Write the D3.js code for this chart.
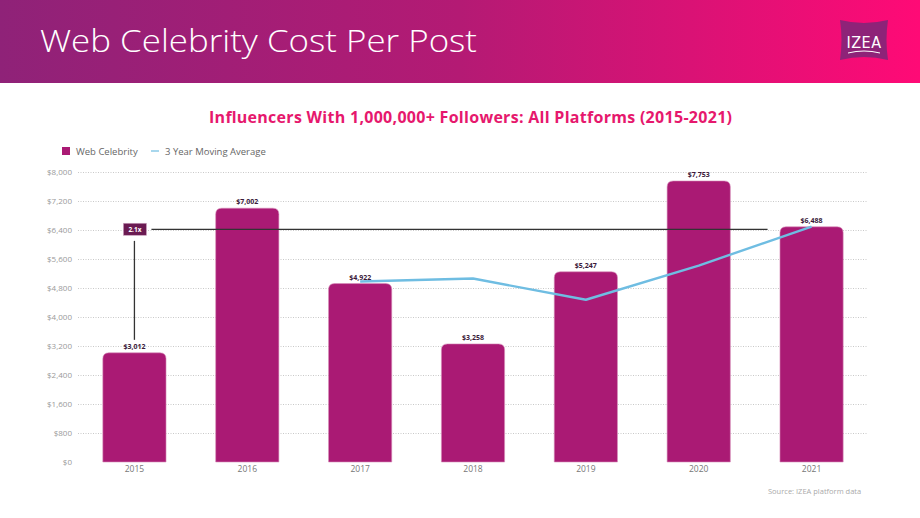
<!DOCTYPE html>
<html>
<head>
<meta charset="utf-8">
<script src="https://cdn.jsdelivr.net/npm/d3@7/dist/d3.min.js"></script>
<style>
  html, body { margin: 0; padding: 0; background: #fff; }
  svg { display: block; font-family: "Open Sans", "Lato", sans-serif; }
</style>
</head>
<body>
<svg id="chart" width="920" height="518"></svg>
<script>
// ---- data ----
const years = ["2015", "2016", "2017", "2018", "2019", "2020", "2021"];
const costPerPost = [3012, 7002, 4922, 3258, 5247, 7753, 6488];
const costLabels = ["$3,012", "$7,002", "$4,922", "$3,258", "$5,247", "$7,753", "$6,488"];
const maYears = ["2017", "2018", "2019", "2020", "2021"];
const movingAverage = [4979, 5061, 4476, 5419, 6496];
const yTicks = [0, 800, 1600, 2400, 3200, 4000, 4800, 5600, 6400, 7200, 8000];
const ratioLineValue = 6420;
const ratioLineFrom = "2015";
const ratioLineTo = "2021";
const ratioVertical = [3370, 6100];
const ratioLabel = "2.1x";

const svg = d3.select("#chart");
const W = 920, H = 518;
const FONT = "'Open Sans', Lato, sans-serif";

// ---- header ----
const defs = svg.append("defs");
const grad = defs.append("linearGradient").attr("id", "hdr").attr("x1", "0").attr("x2", "1").attr("y1", "0").attr("y2", "0");
grad.append("stop").attr("offset", "0").attr("stop-color", "#8f2278");
grad.append("stop").attr("offset", "0.5").attr("stop-color", "#b41a74");
grad.append("stop").attr("offset", "1").attr("stop-color", "#ff0a76");
svg.append("rect").attr("x", 0).attr("y", 0).attr("width", W).attr("height", 83).attr("fill", "url(#hdr)");
svg.append("text").attr("x", 40).attr("y", 52).attr("fill", "#fff")
  .attr("font-size", 32).attr("font-weight", 300).attr("font-family", FONT)
  .attr("textLength", 437).attr("lengthAdjust", "spacingAndGlyphs")
  .text("Web Celebrity Cost Per Post");

// logo
const logo = svg.append("g").attr("transform", "translate(840,20)");
logo.append("path").attr("d", "M0,0 Q24,6 48,0 Q45,20 48,40 Q24,34 0,40 Q3,20 0,0 Z").attr("fill", "#8e2378");
logo.append("text").attr("x", 24).attr("y", 28).attr("text-anchor", "middle").attr("fill", "#fff")
  .attr("font-size", 16).attr("font-weight", 400).attr("letter-spacing", 0.5)
  .attr("font-family", "'DejaVu Sans Condensed', 'Liberation Sans Narrow', sans-serif").text("IZEA");
logo.append("path").attr("d", "M8,33 Q24,29 40,33").attr("stroke", "#fff").attr("stroke-width", 1).attr("fill", "none");

// ---- subtitle ----
svg.append("text").attr("x", 209).attr("y", 123)
  .attr("fill", "#e6186d").attr("font-size", 16).attr("font-weight", 700).attr("font-family", FONT)
  .attr("textLength", 523).attr("lengthAdjust", "spacing")
  .text("Influencers With 1,000,000+ Followers: All Platforms (2015-2021)");

// ---- legend ----
svg.append("rect").attr("x", 62).attr("y", 147).attr("width", 8).attr("height", 8).attr("fill", "#aa1a74");
svg.append("text").attr("x", 76).attr("y", 155).attr("fill", "#666").attr("font-size", 9.5).text("Web Celebrity");
svg.append("line").attr("x1", 151).attr("x2", 159).attr("y1", 151).attr("y2", 151).attr("stroke", "#6fbde2").attr("stroke-width", 1.2);
svg.append("text").attr("x", 165).attr("y", 155).attr("fill", "#666").attr("font-size", 9.5).text("3 Year Moving Average");

// ---- scales ----
const x = d3.scaleBand().domain(years).range([78, 868]).paddingInner(0.44).paddingOuter(0.22);
const y = d3.scaleLinear().domain([0, 8000]).range([462, 172]);

// gridlines
svg.append("g").selectAll("line").data(yTicks.slice(1)).join("line")
  .attr("x1", 78).attr("x2", 868)
  .attr("y1", d => y(d) + 0.5).attr("y2", d => y(d) + 0.5)
  .attr("stroke", "#bbb").attr("stroke-width", 0.8).attr("stroke-dasharray", "1,1.5");

// y axis
const yAxis = d3.axisLeft(y).tickValues(yTicks).tickSize(0).tickPadding(0)
  .tickFormat(d => "$" + d3.format(",")(d));
const gy = svg.append("g").attr("transform", "translate(72,0)").call(yAxis);
gy.select(".domain").remove();
gy.selectAll("text").attr("fill", "#999").attr("font-size", 8).attr("font-family", FONT);

// x axis
const xAxis = d3.axisBottom(x).tickSize(0).tickPadding(0);
const gx = svg.append("g").attr("transform", "translate(0,466)").call(xAxis);
gx.select(".domain").remove();
gx.selectAll("text").attr("fill", "#777").attr("font-size", 8.5).attr("font-family", FONT);

// bars with rounded tops
const r = 6;
function barPath(d, i) {
  const x0 = x(years[i]), w = x.bandwidth(), y0 = y(d), y1 = y(0);
  return `M${x0},${y1} L${x0},${y0 + r} Q${x0},${y0} ${x0 + r},${y0} L${x0 + w - r},${y0} Q${x0 + w},${y0} ${x0 + w},${y0 + r} L${x0 + w},${y1} Z`;
}
svg.append("g").selectAll("path").data(costPerPost).join("path")
  .attr("d", barPath).attr("fill", "#aa1a74").attr("stroke", "#d68fbb").attr("stroke-width", 0.6);

// bar labels
svg.append("g").selectAll("text").data(costPerPost).join("text")
  .attr("x", (d, i) => x(years[i]) + x.bandwidth() / 2)
  .attr("y", d => y(d) - 4)
  .attr("text-anchor", "middle").attr("fill", "#3b1a3a").attr("font-size", 7).attr("font-weight", 700)
  .text((d, i) => costLabels[i]);

// ratio annotation
const cx = yr => x(yr) + x.bandwidth() / 2;
svg.append("line").attr("x1", cx(ratioLineFrom) + 17).attr("x2", cx(ratioLineTo) - 44)
  .attr("y1", y(ratioLineValue)).attr("y2", y(ratioLineValue))
  .attr("stroke", "#333").attr("stroke-width", 1.3);
svg.append("line").attr("x1", cx(ratioLineFrom)).attr("x2", cx(ratioLineFrom))
  .attr("y1", y(ratioVertical[0])).attr("y2", y(ratioVertical[1]))
  .attr("stroke", "#333").attr("stroke-width", 1.3);
svg.append("rect").attr("x", cx(ratioLineFrom) - 11).attr("y", y(ratioLineValue) - 6)
  .attr("width", 23).attr("height", 12).attr("fill", "#6b1b52").attr("stroke", "#c9a0bd").attr("stroke-width", 0.6);
svg.append("text").attr("x", cx(ratioLineFrom) + 0.5).attr("y", y(ratioLineValue) + 2.5)
  .attr("text-anchor", "middle").attr("fill", "#fff").attr("font-size", 6.5).attr("font-weight", 700).text(ratioLabel);

// moving average line
const line = d3.line().x((d, i) => cx(maYears[i])).y(d => y(d));
svg.append("path").datum(movingAverage).attr("d", line)
  .attr("fill", "none").attr("stroke", "#6fbde2").attr("stroke-width", 2.4).attr("stroke-linejoin", "round");

// source
svg.append("text").attr("x", 768).attr("y", 494).attr("fill", "#aaa").attr("font-size", 7.5).text("Source: IZEA platform data");
</script>
</body>
</html>
